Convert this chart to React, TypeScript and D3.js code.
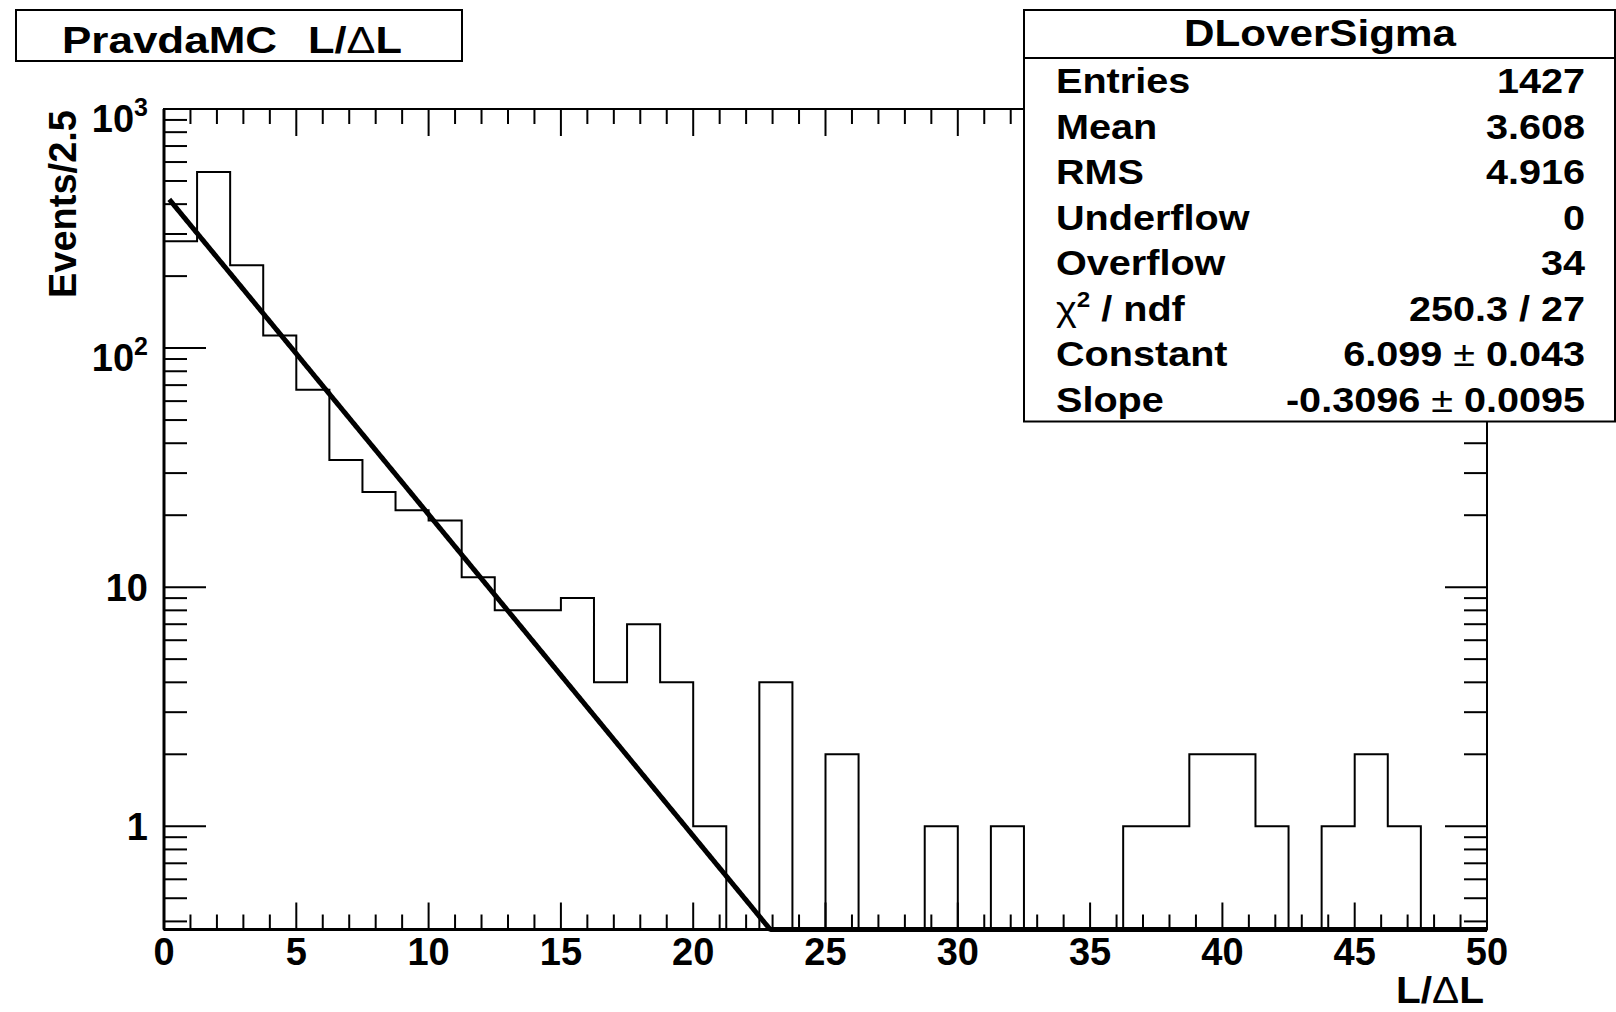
import React from 'react';
import * as d3 from 'd3';

// ---------------- data ----------------
const binLow = 0;
const binWidth = 1.25;
const binCounts = [
  280, 545, 222, 113, 67, 34, 25, 21, 19, 11,
  8, 8, 9, 4, 7, 4, 1, 0, 4, 0,
  2, 0, 0, 1, 0, 1, 0, 0, 0, 1,
  1, 2, 2, 1, 0, 1, 2, 1, 0, 0,
];
const fitConstant = 6.099;
const fitSlope = -0.3096;
const fitRange = [0.2, 50];

const xTickLabels = [0, 5, 10, 15, 20, 25, 30, 35, 40, 45, 50];
const yMajorTicks = [1, 10, 100, 1000];

const statsTitle = 'DLoverSigma';
const statsLabels = ['Entries', 'Mean', 'RMS', 'Underflow', 'Overflow', 'CHI', 'Constant', 'Slope'];
const statsValues = ['1427', '3.608', '4.916', '0', '34', '250.3 / 27', '6.099|0.043', '-0.3096|0.0095'];

// ---------------- layout ----------------
const W = 1616;
const H = 1012;
const PL = 164, PR = 1487, PT = 109, PB = 929.5;
const Y_MIN = 0.37, Y_MAX = 1000;
const FONT = "'Liberation Sans', Arial, Helvetica, sans-serif";

const x = d3.scaleLinear().domain([0, 50]).range([PL, PR]);
const y = d3.scaleLog().domain([Y_MIN, Y_MAX]).range([PB, PT]).clamp(true);

function App() {
  // histogram outline
  const pts: [number, number][] = [[x(binLow), PB]];
  binCounts.forEach((c, i) => {
    const lo = binLow + i * binWidth;
    const hi = lo + binWidth;
    const v = Math.max(c, Y_MIN);
    pts.push([x(lo), y(v)]);
    pts.push([x(hi), y(v)]);
  });
  pts.push([x(binLow + binCounts.length * binWidth), PB]);
  const histPath = d3.line()(pts) as string;

  // fit line (expo), clamped at the frame bottom like ROOT
  const fitXs = d3.range(fitRange[0], fitRange[1] + 0.001, 0.05);
  const fitPts: [number, number][] = fitXs.map((v) => [x(v), y(Math.max(Math.exp(fitConstant + fitSlope * v), Y_MIN))]);
  const fitPath = d3.line()(fitPts) as string;

  const xMinor = d3.range(0, 51, 1).filter((v) => v % 5 !== 0);
  const yMinor: number[] = [];
  [0.1, 1, 10, 100].forEach((d) => {
    for (let k = 2; k <= 9; k++) {
      const v = k * d;
      if (v >= Y_MIN && v <= Y_MAX) yMinor.push(v);
    }
  });

  const tickStroke = 2;
  const rowY = (i: number) => 93 + i * 45.5;

  const renderValue = (s: string) => {
    if (s.includes('|')) {
      const [a, b] = s.split('|');
      return (
        <>
          <tspan>{a}</tspan>
          <tspan fontWeight="normal">{' \u00B1 '}</tspan>
          <tspan>{b}</tspan>
        </>
      );
    }
    return s;
  };

  const renderLabel = (s: string) => {
    if (s === 'CHI') {
      return (
        <>
          <tspan fontWeight="normal">{'\u03C7'}</tspan>
          <tspan fontSize={22} dy={-14}>2</tspan>
          <tspan dy={14}>{' / ndf'}</tspan>
        </>
      );
    }
    return s;
  };

  return (
    <svg width={W} height={H} style={{ position: 'absolute', left: 0, top: 0, background: '#fff' }}
      fontFamily={FONT}>
      <rect x={0} y={0} width={W} height={H} fill="#fff" />

      {/* histogram */}
      <path d={histPath} fill="none" stroke="#000" strokeWidth={2} />
      {/* fit */}
      <path d={fitPath} fill="none" stroke="#000" strokeWidth={5} strokeLinejoin="round" />

      {/* frame */}
      <rect x={PL} y={PT} width={PR - PL} height={PB - PT} fill="none" stroke="#000" strokeWidth={2} />
      <line x1={PL} y1={PB} x2={PR} y2={PB} stroke="#000" strokeWidth={3} />
      <line x1={PL} y1={PT} x2={PL} y2={PB} stroke="#000" strokeWidth={3} />

      {/* x ticks */}
      {xTickLabels.map((v) => (
        <g key={'xm' + v}>
          <line x1={x(v)} x2={x(v)} y1={PB} y2={PB - 27} stroke="#000" strokeWidth={tickStroke} />
          <line x1={x(v)} x2={x(v)} y1={PT} y2={PT + 27} stroke="#000" strokeWidth={tickStroke} />
        </g>
      ))}
      {xMinor.map((v) => (
        <g key={'xn' + v}>
          <line x1={x(v)} x2={x(v)} y1={PB} y2={PB - 15} stroke="#000" strokeWidth={tickStroke} />
          <line x1={x(v)} x2={x(v)} y1={PT} y2={PT + 15} stroke="#000" strokeWidth={tickStroke} />
        </g>
      ))}

      {/* y ticks */}
      {yMajorTicks.map((v) => (
        <g key={'ym' + v}>
          <line x1={PL} x2={PL + 42} y1={y(v)} y2={y(v)} stroke="#000" strokeWidth={tickStroke} />
          <line x1={PR} x2={PR - 42} y1={y(v)} y2={y(v)} stroke="#000" strokeWidth={tickStroke} />
        </g>
      ))}
      {yMinor.map((v) => (
        <g key={'yn' + v}>
          <line x1={PL} x2={PL + 23} y1={y(v)} y2={y(v)} stroke="#000" strokeWidth={tickStroke} />
          <line x1={PR} x2={PR - 23} y1={y(v)} y2={y(v)} stroke="#000" strokeWidth={tickStroke} />
        </g>
      ))}

      {/* x tick labels */}
      {xTickLabels.map((v) => (
        <text key={'xl' + v} x={x(v)} y={965} textAnchor="middle" fontSize={38} fontWeight="bold">
          {v}
        </text>
      ))}

      {/* y tick labels */}
      {yMajorTicks.map((v) => {
        const exp = Math.round(Math.log10(v));
        if (exp <= 1) {
          return (
            <text key={'yl' + v} x={148} y={y(v) + 13.5} textAnchor="end" fontSize={38} fontWeight="bold">
              {v}
            </text>
          );
        }
        return (
          <text key={'yl' + v} x={148} y={y(v) + 22.5} textAnchor="end" fontSize={38} fontWeight="bold">
            <tspan>10</tspan>
            <tspan fontSize={25} dy={-16}>{exp}</tspan>
          </text>
        );
      })}

      {/* axis titles */}
      <text transform={`translate(76,110) rotate(-90)`} textAnchor="end" fontSize={38} fontWeight="bold">
        Events/2.5
      </text>
      <text x={1484} y={1003} textAnchor="end" fontSize={37} fontWeight="bold" textLength={88} lengthAdjust="spacingAndGlyphs">
        <tspan>L/</tspan>
        <tspan fontWeight="normal">{'\u0394'}</tspan>
        <tspan>L</tspan>
      </text>

      {/* title box */}
      <rect x={16} y={10} width={446} height={51} fill="#fff" stroke="#000" strokeWidth={2} />
      <text x={62} y={53} fontSize={37} fontWeight="bold" textLength={215} lengthAdjust="spacingAndGlyphs">PravdaMC</text>
      <text x={308} y={53} fontSize={37} fontWeight="bold" textLength={94} lengthAdjust="spacingAndGlyphs">
        <tspan>L/</tspan>
        <tspan fontWeight="normal">{'\u0394'}</tspan>
        <tspan>L</tspan>
      </text>

      {/* stats box */}
      <rect x={1024} y={10} width={591} height={411.5} fill="#fff" stroke="#000" strokeWidth={2} />
      <line x1={1024} x2={1616} y1={58} y2={58} stroke="#000" strokeWidth={2} />
      <text x={1320} y={46} textAnchor="middle" fontSize={36} fontWeight="bold" textLength={272} lengthAdjust="spacingAndGlyphs">
        {statsTitle}
      </text>
      {statsLabels.map((l, i) => (
        <text key={'sl' + i} transform={`translate(1056,${rowY(i)}) scale(1.1,1)`} fontSize={36} fontWeight="bold">
          {renderLabel(l)}
        </text>
      ))}
      {statsValues.map((v, i) => (
        <text key={'sv' + i} transform={`translate(1585,${rowY(i)}) scale(1.1,1)`} textAnchor="end" fontSize={36} fontWeight="bold">
          {renderValue(v)}
        </text>
      ))}
    </svg>
  );
}

export default App;
